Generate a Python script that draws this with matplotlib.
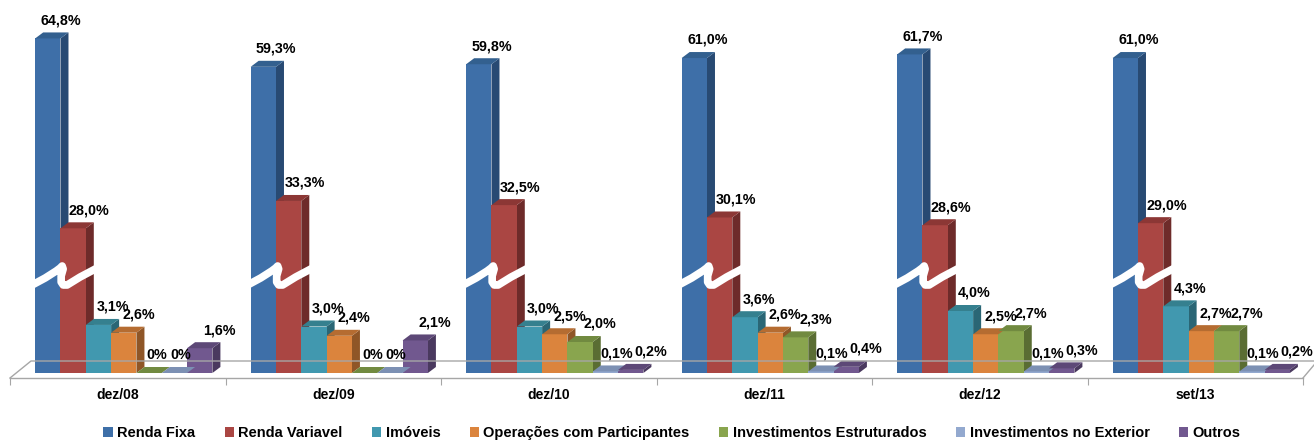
import numpy as np
import matplotlib
matplotlib.use("Agg")
import matplotlib.pyplot as plt
from matplotlib.patches import Polygon, Patch
from matplotlib.lines import Line2D
from matplotlib.transforms import IdentityTransform

categories = ["dez/08", "dez/09", "dez/10", "dez/11", "dez/12", "set/13"]
series = ["Renda Fixa", "Renda Variavel", "Imóveis", "Operações com Participantes",
          "Investimentos Estruturados", "Investimentos no Exterior", "Outros"]
renda_fixa = [64.8, 59.3, 59.8, 61.0, 61.7, 61.0]
renda_variavel = [28.0, 33.3, 32.5, 30.1, 28.6, 29.0]
imoveis = [3.1, 3.0, 3.0, 3.6, 4.0, 4.3]
operacoes = [2.6, 2.4, 2.5, 2.6, 2.5, 2.7]
estruturados = [0.0, 0.0, 2.0, 2.3, 2.7, 2.7]
exterior = [0.0, 0.0, 0.1, 0.1, 0.1, 0.1]
outros = [1.6, 2.1, 0.2, 0.4, 0.3, 0.2]
labels = [
    ["64,8%", "59,3%", "59,8%", "61,0%", "61,7%", "61,0%"],
    ["28,0%", "33,3%", "32,5%", "30,1%", "28,6%", "29,0%"],
    ["3,1%", "3,0%", "3,0%", "3,6%", "4,0%", "4,3%"],
    ["2,6%", "2,4%", "2,5%", "2,6%", "2,5%", "2,7%"],
    ["0%", "0%", "2,0%", "2,3%", "2,7%", "2,7%"],
    ["0%", "0%", "0,1%", "0,1%", "0,1%", "0,1%"],
    ["1,6%", "2,1%", "0,2%", "0,4%", "0,3%", "0,2%"],
]
values = [renda_fixa, renda_variavel, imoveis, operacoes, estruturados, exterior, outros]

front = ["#3E6FA8", "#AA4643", "#4198AF", "#DB843D", "#89A54E", "#93A9CF", "#71588F"]
side = ["#284A73", "#6E2B2A", "#2A6675", "#8F5627", "#5A6D33", "#62718C", "#4A395F"]
top = ["#33608F", "#8C3735", "#35808F", "#B56C31", "#718A40", "#7C90B3", "#5D4877"]
# horizontal label offset (px) per series, as placed in the reference
label_dx = [13, 16, 14, 15, 20, 11, 20]
zero_dx = [8, 8, 8, 8, 8, 6, 8]

plt.rcParams['font.family'] = ['Liberation Sans', 'DejaVu Sans']

W, H = 1314, 441
fig = plt.figure(figsize=(W / 100, H / 100), dpi=100)
ax = fig.add_axes([10 / W, (H - 378) / H, (1303 - 10) / W, 378 / H])


def fwd(v):
    v = np.asarray(v, dtype=float)
    return np.where(v <= 5, 15.5 * v,
                    np.where(v <= 15, 77.5 + 0.01 * (v - 5), 77.6 + 5.16 * (v - 15)))


def inv(u):
    u = np.asarray(u, dtype=float)
    return np.where(u <= 77.5, u / 15.5,
                    np.where(u <= 77.6, 5 + (u - 77.5) / 0.01, 15 + (u - 77.6) / 5.16))


ax.set_yscale('function', functions=(fwd, inv))
ax.set_xlim(-0.5, len(categories) - 0.5)
ax.set_ylim(-5 / 15.5, 15 + (373 - 77.6) / 5.16)

for s in ['top', 'right', 'left']:
    ax.spines[s].set_visible(False)
ax.spines['bottom'].set_color('#A6A6A6')
ax.spines['bottom'].set_linewidth(1.0)
ax.set_yticks([])
ax.set_xticks(np.arange(-0.5, len(categories) + 0.5, 1.0))
ax.set_xticklabels([])
ax.tick_params(axis='x', which='major', length=5, color='#A6A6A6', direction='out')
ax.set_xticks(np.arange(len(categories)), minor=True)
ax.set_xticklabels(categories, minor=True, fontsize=10, fontweight='bold')
ax.tick_params(axis='x', which='minor', length=0, pad=7)
ax.patch.set_visible(False)

ident = IdentityTransform()

# floor outline (display coords)
fl = Line2D([10, 31, 1314], [H - 378, H - 361, H - 361],
            transform=ident, color='#A6A6A6', lw=1.0)
fig.add_artist(fl)
fr = Line2D([1303, 1314], [H - 378, H - 365], transform=ident, color='#A6A6A6', lw=1.0)
fig.add_artist(fr)

bw = 0.1175
shift = 0.028
DX, DY = 8, 6
x = np.arange(len(categories))

for j, (vals, name) in enumerate(zip(values, series)):
    xs = x + shift + (j - 3) * bw
    ax.bar(xs, vals, width=bw, color=front[j], edgecolor='none', zorder=3, label=name)
    for i, v in enumerate(vals):
        (xl, yb) = ax.transData.transform((xs[i] - bw / 2, 0))
        (xr, yt) = ax.transData.transform((xs[i] + bw / 2, v))
        sp = Polygon([(xr, yb), (xr, yt), (xr + DX, yt + DY), (xr + DX, yb + DY)],
                     closed=True, transform=ident, facecolor=side[j], edgecolor='none',
                     zorder=2.9, clip_on=False)
        ax.add_patch(sp)
        tp = Polygon([(xl, yt), (xr, yt), (xr + DX, yt + DY), (xl + DX, yt + DY)],
                     closed=True, transform=ident, facecolor=top[j], edgecolor='none',
                     zorder=3.1, clip_on=False)
        ax.add_patch(tp)
        dx = zero_dx[j] if v == 0 else label_dx[j]
        ax.annotate(labels[j][i], xy=(xs[i], v), xytext=(dx * 0.72, 13.0),
                    textcoords='offset points', ha='center', va='center',
                    fontsize=10.3, fontweight='bold', color='black', zorder=5,
                    annotation_clip=False)

# axis break on the two tall series
for i in range(len(categories)):
    x0 = x[i] + shift - 3 * bw - bw / 2
    (px0, pyb) = ax.transData.transform((x0, 0))
    rel = [(-3, 88), (10, 95), (21, 102), (25, 105), (27, 107), (28, 104),
           (26, 97), (26, 91), (28, 88), (32, 88), (45, 96), (62, 105)]
    bx = [px0 + a for a, b in rel]
    by = [pyb + b for a, b in rel]
    ln = Line2D(bx, by, transform=ident, color='white', lw=5.5,
                solid_joinstyle='round', solid_capstyle='butt', zorder=4)
    ax.add_artist(ln)

handles = [Patch(facecolor=c, edgecolor='none') for c in front]
leg = fig.legend(handles, series, loc='center', bbox_to_anchor=(672 / W, (H - 433) / H),
                 ncol=7, frameon=False, handlelength=0.65, handleheight=0.65,
                 handletextpad=0.3, columnspacing=2.0,
                 prop={'size': 10.5, 'weight': 'bold'})

fig.savefig("out.png", dpi=100)
